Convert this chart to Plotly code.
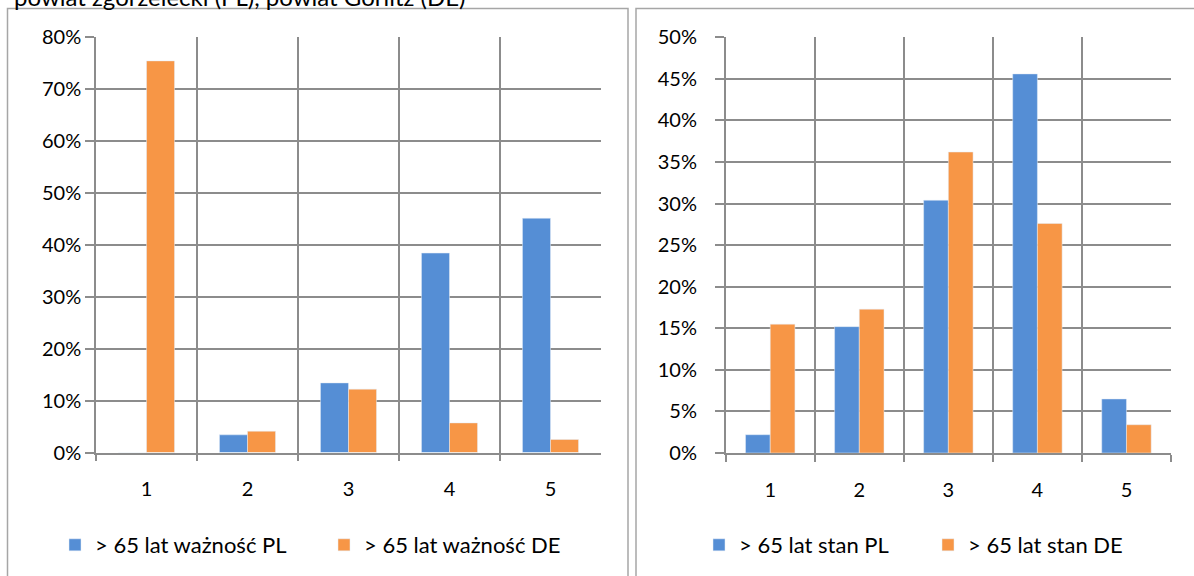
import plotly.graph_objects as go

W, H = 1194, 576

categories = ["1", "2", "3", "4", "5"]
imp_pl = [0.0, 0.034, 0.134, 0.384, 0.451]
imp_de = [0.754, 0.041, 0.122, 0.057, 0.025]
state_pl = [0.022, 0.152, 0.304, 0.456, 0.065]
state_de = [0.155, 0.173, 0.362, 0.276, 0.034]

left_ticks = [0, 0.1, 0.2, 0.3, 0.4, 0.5, 0.6, 0.7, 0.8]
right_ticks = [0, 0.05, 0.1, 0.15, 0.2, 0.25, 0.3, 0.35, 0.4, 0.45, 0.5]

names_left = ["> 65 lat ważność PL", "> 65 lat ważność DE"]
names_right = ["> 65 lat stan PL", "> 65 lat stan DE"]
title_text = "powiat zgorzelecki (PL), powiat Görlitz (DE)"

BLUE = "#558ED5"
ORANGE = "#F79646"
GRID = "#8C8C8C"
FONT = "Lato"

def px(x):
    return x / W

def py(y):
    return 1 - y / H

fig = go.Figure()
fig.add_trace(go.Bar(x=categories, y=imp_pl, name=names_left[0], marker_color=BLUE,
                     xaxis="x", yaxis="y", legend="legend"))
fig.add_trace(go.Bar(x=categories, y=imp_de, name=names_left[1], marker_color=ORANGE,
                     xaxis="x", yaxis="y", legend="legend"))
fig.add_trace(go.Bar(x=categories, y=state_pl, name=names_right[0], marker_color=BLUE,
                     xaxis="x2", yaxis="y2", legend="legend2"))
fig.add_trace(go.Bar(x=categories, y=state_de, name=names_right[1], marker_color=ORANGE,
                     xaxis="x2", yaxis="y2", legend="legend2"))

xcommon = dict(type="category", tickson="boundaries", showgrid=True, gridcolor=GRID,
               gridwidth=1.5, ticks="outside", ticklen=7, tickcolor=GRID, tickwidth=1.5,
               showline=True, linecolor=GRID, linewidth=1.5, mirror=False,
               tickfont=dict(family=FONT, size=20, color="#000"), automargin=False,
               ticklabelstandoff=18)
ycommon = dict(showgrid=True, gridcolor=GRID, gridwidth=1.5, ticks="outside", ticklen=9,
               tickcolor=GRID, tickwidth=1.5, showline=True, linecolor=GRID, linewidth=1.5,
               tickformat=".0%", zeroline=False,
               tickfont=dict(family=FONT, size=20, color="#000"), automargin=False)

legend_font = dict(family=FONT, size=22, color="#000")

fig.update_layout(
    width=W, height=H,
    margin=dict(l=0, r=0, t=0, b=0),
    paper_bgcolor="white", plot_bgcolor="white",
    barmode="group",
    bargap=0.445,
    bargroupgap=0,
    showlegend=True,
    xaxis=dict(domain=[px(96), px(601)], anchor="y", **xcommon),
    yaxis=dict(domain=[py(452.5), py(37)], anchor="x", range=[0, 0.8],
               tickvals=left_ticks, **ycommon),
    xaxis2=dict(domain=[px(725.7), px(1171)], anchor="y2", **xcommon),
    yaxis2=dict(domain=[py(453), py(37.3)], anchor="x2", range=[0, 0.5],
                tickvals=right_ticks, ticklabelstandoff=14, **ycommon),
    legend=dict(orientation="h", x=px(55), y=py(545), xanchor="left", yanchor="middle",
                font=legend_font, bgcolor="rgba(0,0,0,0)", itemwidth=30,
                entrywidth=224, traceorder="normal"),
    legend2=dict(orientation="h", x=px(699), y=py(545), xanchor="left", yanchor="middle",
                 font=legend_font, bgcolor="rgba(0,0,0,0)", itemwidth=30,
                 entrywidth=184, traceorder="normal"),
    shapes=[
        dict(type="rect", xref="paper", yref="paper", x0=px(7.5), x1=px(628), y0=py(600), y1=py(8.5),
             line=dict(color="#A6A6A6", width=1.5), fillcolor="rgba(0,0,0,0)"),
        dict(type="rect", xref="paper", yref="paper", x0=px(636), x1=px(1210), y0=py(600), y1=py(8.5),
             line=dict(color="#A6A6A6", width=1.5), fillcolor="rgba(0,0,0,0)"),
    ],
    annotations=[
        dict(text=title_text, xref="paper", yref="paper", x=px(468), y=py(-3.5), xanchor="right",
             yanchor="middle", showarrow=False, font=dict(family=FONT, size=24, color="#000")),
    ],
)

fig.write_html("out.html", config={"displayModeBar": False},
               post_script="document.body.style.margin='0';document.body.style.overflow='hidden';")
